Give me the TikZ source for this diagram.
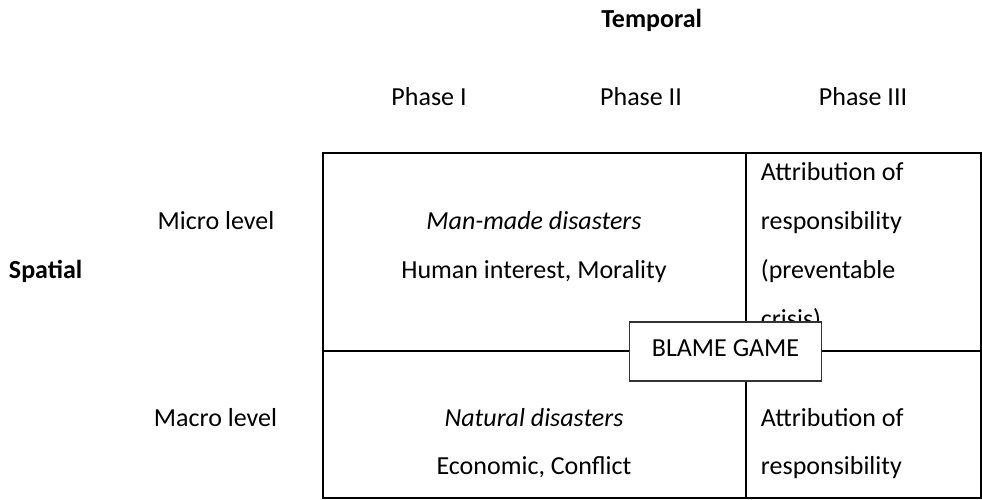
\documentclass[tikz,border=0pt]{standalone}
\usepackage{fontspec}
\setmainfont{Carlito}

\begin{document}
\begin{tikzpicture}[x=1pt,y=-1pt,
    lbl/.style={anchor=base,inner sep=0pt,font=\fontsize{26}{30}\selectfont},
    lblleft/.style={lbl,anchor=base west},
    frame/.style={black,line width=2pt},
    blamebox/.style={draw=black!80,fill=white,line width=1.5pt,
        minimum width=192pt,minimum height=59pt,inner sep=0pt}]
    \def\colA{534}   % centre of the left column
    \def\colB{760.7} % left edge of the text in the right column

    \useasboundingbox (0,0) rectangle (982,499);

    % Axis titles
    \node[lbl,font=\fontsize{26}{30}\selectfont\bfseries] (temporal) at (651.7,27) {Temporal};
    \node[lbl,font=\fontsize{26}{30}\selectfont\bfseries] (spatial) at (45.6,278) {Spatial};

    % Phases along the top
    \node[lbl] (phaseI) at (429,105) {Phase I};
    \node[lbl] (phaseII) at (641,105) {Phase II};
    \node[lbl] (phaseIII) at (863,105) {Phase III};

    % Levels on the left
    \node[lbl] (micro) at (216,229) {Micro level};
    \node[lbl] (macro) at (215.5,426) {Macro level};

    % Frame of the matrix and its dividers
    \draw[frame] (323,153) rectangle (981,497.5);
    \draw[frame] (746,153) -- (746,497.5);
    \draw[frame] (323,351) -- (981,351);

    % Left column
    \node[lbl] (manmade) at (\colA,229) {\itshape Man-made disasters};
    \node[lbl] (human) at (\colA,278) {Human interest, Morality};
    \node[lbl] (natural) at (\colA,426) {\itshape Natural disasters};
    \node[lbl] (economic) at (\colA,474) {Economic, Conflict};

    % Right column, upper cell (runs under the box)
    \foreach \txt [count=\i] in {{Attribution of},{responsibility},{(preventable},{crisis)}}{
        \node[lblleft] (attup\i) at (\colB,131+49*\i) {\txt};
    }

    % Right column, lower cell
    \foreach \txt [count=\i] in {{Attribution of},{responsibility}}{
        \node[lblleft] (attlow\i) at (\colB,378+48*\i) {\txt};
    }

    % Box across the centre
    \node[blamebox] (blame) at (725.5,351.3) {};
    \node[lbl] (blametxt) at (725.5,356) {BLAME GAME};
\end{tikzpicture}
\end{document}
